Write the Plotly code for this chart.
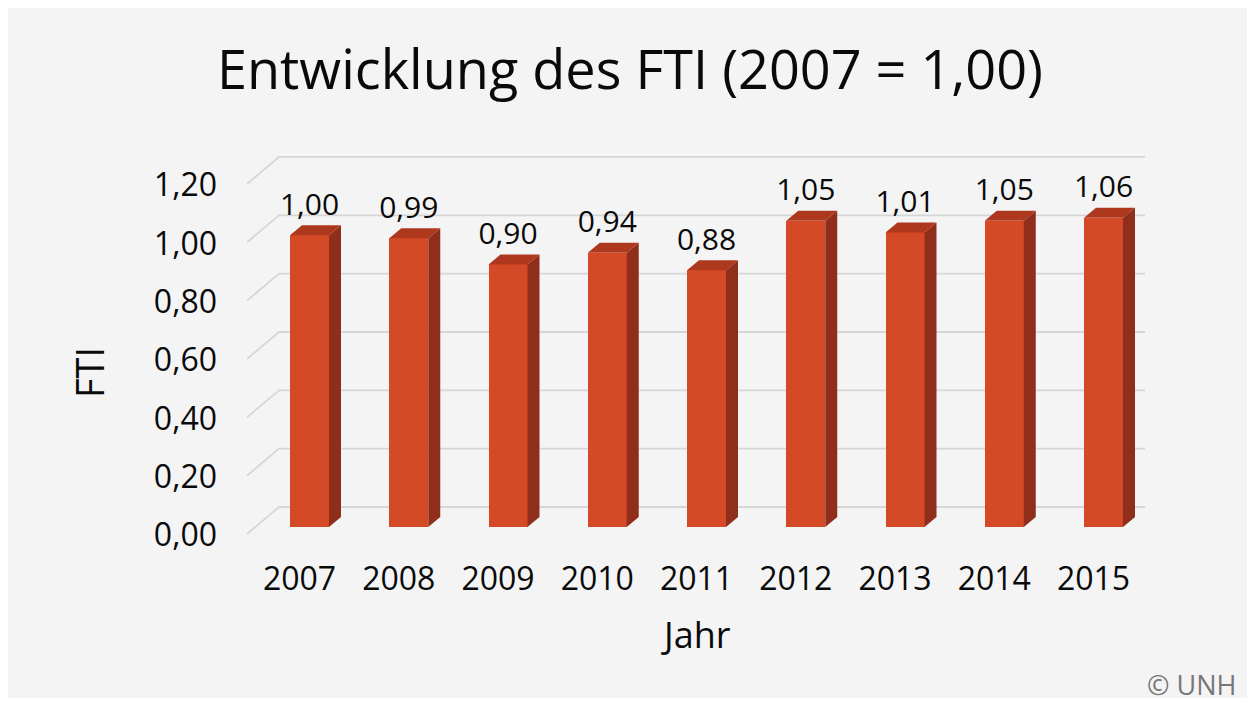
import plotly.graph_objects as go

# ---- data ----
years = ["2007", "2008", "2009", "2010", "2011", "2012", "2013", "2014", "2015"]
fti = [1.00, 0.99, 0.90, 0.94, 0.88, 1.05, 1.01, 1.05, 1.06]
ytick_vals = [0.0, 0.2, 0.4, 0.6, 0.8, 1.0, 1.2]
ytick_text = ["0,00", "0,20", "0,40", "0,60", "0,80", "1,00", "1,20"]

# ---- geometry (page pixels; the page body adds an 8px offset) ----
OFF = 8
W, H = 1255 - OFF, 702 - OFF
L, R, T, B = 240 - OFF, 100, 140 - OFF, 157
plot_w = W - L - R
plot_h = H - T - B
x_c0, x_step = 309.5 - OFF, 99.25
y_zero, y_unit = 527.0 - OFF, 291.7
x_range = [(L - x_c0) / x_step, (W - R - x_c0) / x_step]
y_range = [(y_zero - (H - B)) / y_unit, (y_zero - T) / y_unit]

bar_w = 39 / x_step
dx = 12 / x_step
dy = 10 / y_unit
FRONT = "#d44a27"
SIDE = "#8f2f1b"
TOP = "#ad381e"
FONT = "Open Sans"
INK = "#0a0a0a"

xs = list(range(len(years)))
fig = go.Figure()

# front faces
fig.add_trace(go.Bar(x=xs, y=fti, width=bar_w, marker=dict(color=FRONT, line=dict(width=0)),
                     showlegend=False))

# side faces and top faces
sx, sy, tx, ty = [], [], [], []
for i, v in zip(xs, fti):
    xr = i + bar_w / 2
    xl = i - bar_w / 2
    sx += [xr, xr + dx, xr + dx, xr, xr, None]
    sy += [0, dy, v + dy, v, 0, None]
    tx += [xl, xl + dx, xr + dx, xr, xl, None]
    ty += [v, v + dy, v + dy, v, v, None]
fig.add_trace(go.Scatter(x=sx, y=sy, mode="lines", fill="toself", fillcolor=SIDE,
                         line=dict(width=0, color=SIDE), hoverinfo="skip", showlegend=False))
fig.add_trace(go.Scatter(x=tx, y=ty, mode="lines", fill="toself", fillcolor=TOP,
                         line=dict(width=0, color=TOP), hoverinfo="skip", showlegend=False))

# data labels
fig.add_trace(go.Scatter(x=xs, y=[v + dy + 3 / y_unit for v in fti], mode="text",
                         text=[f"{v:.2f}".replace(".", ",") for v in fti],
                         textposition="top center",
                         textfont=dict(family=FONT, size=30, color=INK),
                         hoverinfo="skip", showlegend=False))

def px2paper(px, py):
    # px, py given in page pixels
    return (px - OFF - L) / plot_w, (H - B - (py - OFF)) / plot_h

x0p, y0p = px2paper(OFF, OFF)
x1p, y1p = px2paper(1255, 698)

shapes = [dict(type="rect", xref="paper", yref="paper", x0=x0p, y0=y0p, x1=x1p, y1=y1p,
               fillcolor="#f4f4f4", line=dict(width=0), layer="below")]

# gridlines on the back wall (with perspective slant at left), drawn below the bars
g_left = (247 - OFF - x_c0) / x_step
g_knee = (279 - OFF - x_c0) / x_step
g_right = (1145 - OFF - x_c0) / x_step
for v in ytick_vals:
    y_front = v - 7 / y_unit
    y_back = v + 20 / y_unit
    shapes.append(dict(type="path", xref="x", yref="y", layer="below",
                       path=f"M {g_left},{y_front} L {g_knee},{y_back} L {g_right},{y_back}",
                       line=dict(color="#d6d6d6", width=1.8)))

fig.update_layout(
    width=W, height=H,
    margin=dict(l=L, r=R, t=T, b=B),
    paper_bgcolor="white",
    plot_bgcolor="rgba(0,0,0,0)",
    title=dict(text="Entwicklung des FTI (2007 = 1,00)", x=(630 - OFF) / W, y=1 - (70 - OFF) / H,
               xanchor="center", yanchor="middle",
               font=dict(family=FONT, size=54, color=INK)),
    xaxis=dict(range=x_range, tickvals=xs, ticktext=years, showgrid=False, zeroline=False,
               showline=False, ticks="", ticklabelshift=-10, ticklabelstandoff=12,
               tickfont=dict(family=FONT, size=32, color=INK), fixedrange=True),
    yaxis=dict(range=y_range, tickvals=ytick_vals, ticktext=ytick_text, showgrid=False,
               zeroline=False, showline=False, ticks="", ticklabelshift=8,
               ticklabelstandoff=22,
               tickfont=dict(family=FONT, size=32, color=INK), fixedrange=True),
    shapes=shapes,
    annotations=[
        dict(text="FTI", textangle=-90, x=px2paper(89, 373)[0], y=px2paper(89, 373)[1],
             xref="paper", yref="paper", showarrow=False, xanchor="center", yanchor="middle",
             font=dict(family=FONT, size=38, color=INK)),
        dict(text="Jahr", x=px2paper(696, 634)[0], y=px2paper(696, 634)[1],
             xref="paper", yref="paper", showarrow=False, xanchor="center", yanchor="middle",
             font=dict(family=FONT, size=36, color=INK)),
        dict(text="© UNH", x=px2paper(1238, 684)[0], y=px2paper(1238, 684)[1],
             xref="paper", yref="paper", showarrow=False, xanchor="right", yanchor="middle",
             font=dict(family=FONT, size=27, color="#777777")),
    ],
    bargap=0,
)

fig.write_html("out.html")
